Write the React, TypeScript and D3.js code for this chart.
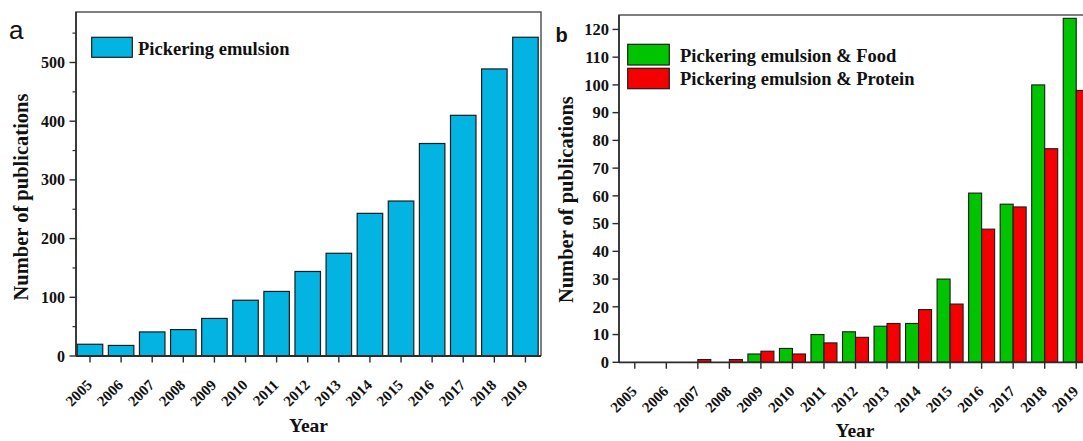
import React from "react";
import * as d3 from "d3";

// Publication counts per year
const years = [2005, 2006, 2007, 2008, 2009, 2010, 2011, 2012, 2013, 2014, 2015, 2016, 2017, 2018, 2019];
const pickering = [20, 18, 41, 45, 64, 95, 110, 144, 175, 243, 264, 362, 410, 489, 543];
const food = [0, 0, 0, 0, 3, 5, 10, 11, 13, 14, 30, 61, 57, 100, 124];
const protein = [0, 0, 1, 1, 4, 3, 7, 9, 14, 19, 21, 48, 56, 77, 98];

const leftTicks = [0, 100, 200, 300, 400, 500];
const leftMinorTicks = [50, 150, 250, 350, 450, 550];
const rightTicks = [0, 10, 20, 30, 40, 50, 60, 70, 80, 90, 100, 110, 120];

const seriesA = "Pickering emulsion";
const seriesFood = "Pickering emulsion & Food";
const seriesProtein = "Pickering emulsion & Protein";

const SERIF = "'Liberation Serif', 'Times New Roman', serif";
const SANS = "'Liberation Sans', Arial, sans-serif";
const AXIS = "#2b2b2b";
const BLUE = "#03b3e1";
const GREEN = "#00c400";
const RED = "#f40000";
const EDGE = "#1c1c1c";

type PanelGeom = { left: number; right: number; top: number; bottom: number };

function XAxis({ x, g }: { x: d3.ScaleLinear<number, number>; g: PanelGeom }) {
  return (
    <g>
      {years.map((yr) => {
        const px = x(yr);
        return (
          <g key={yr}>
            <line x1={px} x2={px} y1={g.bottom} y2={g.bottom + 6.5} stroke={AXIS} strokeWidth={1.4} />
            <text
              transform={`translate(${px + 3},${g.bottom + 30}) rotate(-45)`}
              textAnchor="end"
              fontFamily={SERIF}
              fontWeight="bold"
              fontSize={15}
              fill="#111"
            >
              {yr}
            </text>
          </g>
        );
      })}
    </g>
  );
}

export default function App() {
  // Panel a geometry and scales
  const ga: PanelGeom = { left: 76, right: 541, top: 12, bottom: 356 };
  const xa = d3.scaleLinear().domain([2004.55, 2019.5]).range([ga.left, ga.right]);
  const ya = d3.scaleLinear().domain([0, 586]).range([ga.bottom, ga.top]);
  const stepA = xa(2006) - xa(2005);
  const barWA = stepA * 0.82;

  // Panel b geometry and scales
  const gb: PanelGeom = { left: 619, right: 1092, top: 15, bottom: 362.3 };
  const xb = d3.scaleLinear().domain([2004.5, 2019.5]).range([gb.left, gb.right]);
  const yb = d3.scaleLinear().domain([0, 125.2]).range([gb.bottom, gb.top]);
  const barWB = 13;

  return (
    <svg
      width={1083}
      height={441}
      viewBox="0 0 1083 441"
      style={{ position: "absolute", left: 0, top: 0, background: "#fff" }}
    >
      <rect x={0} y={0} width={1083} height={441} fill="#fff" />

      {/* ---------- Panel a ---------- */}
      <text x={9} y={38.5} fontFamily={SANS} fontSize={26} fill="#111">a</text>

      {years.map((yr, i) => (
        <rect
          key={yr}
          x={xa(yr) - barWA / 2}
          y={ya(pickering[i])}
          width={barWA}
          height={ya(0) - ya(pickering[i])}
          fill={BLUE}
          stroke={EDGE}
          strokeWidth={1.2}
        />
      ))}

      {/* frame */}
      <path
        d={`M${ga.left},${ga.bottom} V${ga.top} H${ga.right} V${ga.bottom}`}
        fill="none"
        stroke="#555"
        strokeWidth={1.5}
      />
      <line x1={ga.left} x2={ga.right} y1={ga.bottom} y2={ga.bottom} stroke={AXIS} strokeWidth={1.8} />
      <line x1={ga.left} x2={ga.left} y1={ga.bottom} y2={ga.top} stroke={AXIS} strokeWidth={1.6} />

      {leftTicks.map((t) => (
        <g key={t}>
          <line x1={ga.left - 6.5} x2={ga.left} y1={ya(t)} y2={ya(t)} stroke={AXIS} strokeWidth={1.4} />
          <text
            x={ga.left - 11}
            y={ya(t)}
            dy="0.35em"
            textAnchor="end"
            fontFamily={SERIF}
            fontWeight="bold"
            fontSize={16}
            fill="#111"
          >
            {t}
          </text>
        </g>
      ))}
      {leftMinorTicks.map((t) => (
        <line key={t} x1={ga.left - 3.5} x2={ga.left} y1={ya(t)} y2={ya(t)} stroke={AXIS} strokeWidth={1.2} />
      ))}

      <XAxis x={xa} g={ga} />

      <text
        transform={`translate(27.5,${(ga.top + ga.bottom) / 2 + 13}) rotate(-90)`}
        textAnchor="middle"
        fontFamily={SERIF}
        fontWeight="bold"
        fontSize={20.5}
        fill="#111"
      >
        Number of publications
      </text>
      <text
        x={(ga.left + ga.right) / 2}
        y={431.5}
        textAnchor="middle"
        fontFamily={SERIF}
        fontWeight="bold"
        fontSize={19.5}
        fill="#111"
      >
        Year
      </text>

      {/* legend a */}
      <rect x={91.7} y={37.3} width={40.6} height={20} fill={BLUE} stroke={EDGE} strokeWidth={1.2} />
      <text x={138} y={54.5} fontFamily={SERIF} fontWeight="bold" fontSize={18.5} fill="#111">
        {seriesA}
      </text>

      {/* ---------- Panel b ---------- */}
      <text x={555.5} y={41.7} fontFamily={SANS} fontWeight="bold" fontSize={20} fill="#111">b</text>

      {years.map((yr, i) => (
        <g key={yr}>
          {food[i] > 0 && (
            <rect
              x={xb(yr) - barWB}
              y={yb(food[i])}
              width={barWB}
              height={yb(0) - yb(food[i])}
              fill={GREEN}
              stroke={EDGE}
              strokeWidth={1.1}
            />
          )}
          {protein[i] > 0 && (
            <rect
              x={xb(yr)}
              y={yb(protein[i])}
              width={barWB}
              height={yb(0) - yb(protein[i])}
              fill={RED}
              stroke={EDGE}
              strokeWidth={1.1}
            />
          )}
        </g>
      ))}

      <path
        d={`M${gb.left},${gb.bottom} V${gb.top} H${gb.right} V${gb.bottom}`}
        fill="none"
        stroke="#555"
        strokeWidth={1.5}
      />
      <line x1={gb.left} x2={gb.right} y1={gb.bottom} y2={gb.bottom} stroke={AXIS} strokeWidth={1.8} />
      <line x1={gb.left} x2={gb.left} y1={gb.bottom} y2={gb.top} stroke={AXIS} strokeWidth={1.6} />

      {rightTicks.map((t) => (
        <g key={t}>
          <line x1={gb.left - 6.5} x2={gb.left} y1={yb(t)} y2={yb(t)} stroke={AXIS} strokeWidth={1.4} />
          <text
            x={gb.left - 10}
            y={yb(t)}
            dy="0.35em"
            textAnchor="end"
            fontFamily={SERIF}
            fontWeight="bold"
            fontSize={16.5}
            fill="#111"
          >
            {t}
          </text>
        </g>
      ))}

      <XAxis x={xb} g={gb} />

      <text
        transform={`translate(573,${(gb.top + gb.bottom) / 2 + 11}) rotate(-90)`}
        textAnchor="middle"
        fontFamily={SERIF}
        fontWeight="bold"
        fontSize={20.5}
        fill="#111"
      >
        Number of publications
      </text>
      <text
        x={855}
        y={436.5}
        textAnchor="middle"
        fontFamily={SERIF}
        fontWeight="bold"
        fontSize={19.5}
        fill="#111"
      >
        Year
      </text>

      {/* legend b */}
      <rect x={627.7} y={44.3} width={41.6} height={20.7} fill={GREEN} stroke={EDGE} strokeWidth={1.2} />
      <rect x={627.7} y={68.3} width={41.6} height={20.4} fill={RED} stroke={EDGE} strokeWidth={1.2} />
      <text x={680} y={61.5} fontFamily={SERIF} fontWeight="bold" fontSize={18.5} fill="#111">
        {seriesFood}
      </text>
      <text x={680} y={85} fontFamily={SERIF} fontWeight="bold" fontSize={18.5} fill="#111">
        {seriesProtein}
      </text>
    </svg>
  );
}
